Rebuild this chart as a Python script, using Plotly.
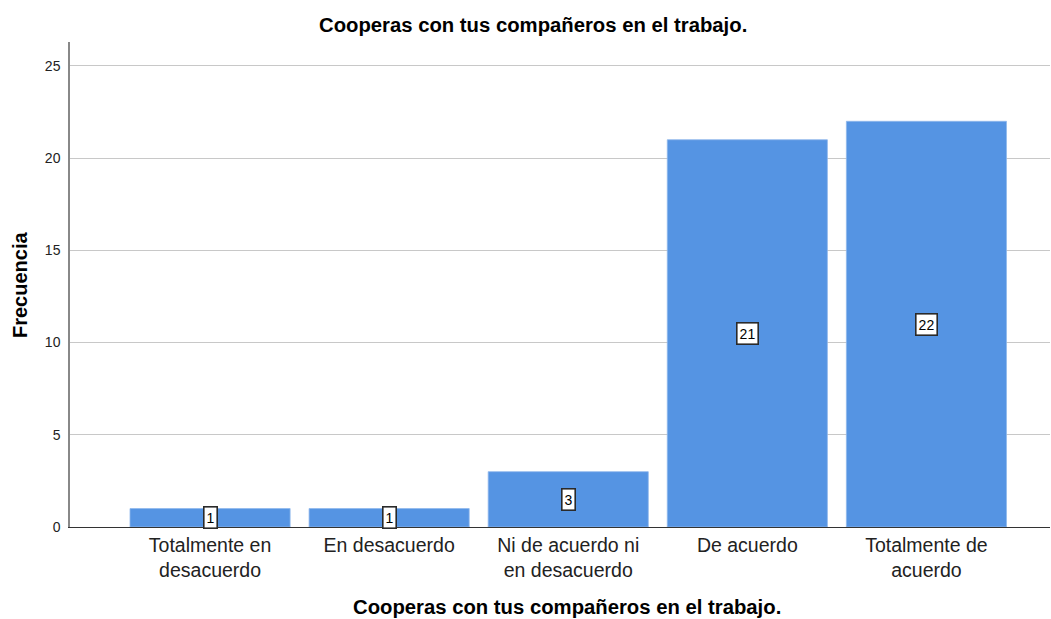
import plotly.graph_objects as go

# Response categories and their frequencies
categories = [
    "Totalmente en<br>desacuerdo",
    "En desacuerdo",
    "Ni de acuerdo ni<br>en desacuerdo",
    "De acuerdo",
    "Totalmente de<br>acuerdo",
]
frequencies = [1, 1, 3, 21, 22]
y_ticks = [0, 5, 10, 15, 20, 25]

title_text = "Cooperas con tus compañeros en el trabajo."
bar_color = "#5594E3"
font_family = "Liberation Sans, Arial, sans-serif"

fig = go.Figure()
fig.add_trace(go.Bar(
    x=categories,
    y=frequencies,
    width=0.894,
    marker=dict(color=bar_color, line=dict(color="#8fb8ec", width=0.8)),
    hoverinfo="skip",
))

# Value labels in boxes at the middle of each bar
for cat, val in zip(categories, frequencies):
    fig.add_annotation(
        x=cat, y=val / 2, xref="x", yref="y",
        text=str(val), showarrow=False,
        font=dict(family=font_family, size=14, color="#000"),
        bgcolor="white", bordercolor="#2a2a2a", borderwidth=1.6, borderpad=2,
    )

# Chart title, axis titles (positions relative to the plot area)
fig.add_annotation(
    x=0.4724, y=1.035, xref="paper", yref="paper",
    text=f"<b>{title_text}</b>", showarrow=False,
    font=dict(family=font_family, size=20.3, color="#000"),
    xanchor="center", yanchor="middle",
)
fig.add_annotation(
    x=0.5071, y=-0.165, xref="paper", yref="paper",
    text=f"<b>{title_text}</b>", showarrow=False,
    font=dict(family=font_family, size=20.3, color="#000"),
    xanchor="center", yanchor="middle",
)
fig.add_annotation(
    x=-0.051, y=0.499, xref="paper", yref="paper",
    text="<b>Frecuencia</b>", showarrow=False, textangle=-90,
    font=dict(family=font_family, size=20, color="#000"),
    xanchor="center", yanchor="middle",
)

fig.update_layout(
    width=1051, height=619,
    margin=dict(l=70, r=1, t=42, b=92),
    paper_bgcolor="white", plot_bgcolor="white",
    showlegend=False,
    font=dict(family=font_family, color="#222"),
    xaxis=dict(
        type="category",
        range=[-0.782, 4.69],
        showgrid=False,
        showline=True, linecolor="#333", linewidth=1.2,
        ticks="", tickfont=dict(size=19.5, color="#222"),
        fixedrange=True,
    ),
    yaxis=dict(
        range=[0, 26.3],
        tickvals=y_ticks,
        showgrid=True, gridcolor="#c8c8c8", gridwidth=1.3,
        zeroline=False,
        showline=True, linecolor="#888", linewidth=1.5,
        ticks="", ticklabelstandoff=5,
        tickfont=dict(size=14, color="#222"),
        fixedrange=True,
    ),
)

fig.write_html("out.html")
